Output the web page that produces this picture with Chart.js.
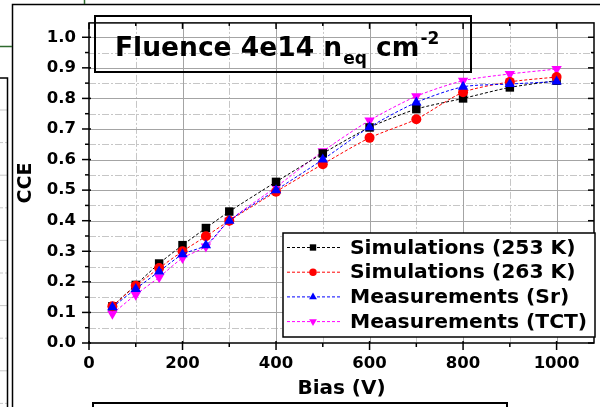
<!DOCTYPE html>
<html><head><meta charset="utf-8">
<script src="https://cdn.jsdelivr.net/npm/chart.js@4/dist/chart.umd.min.js"></script>
<style>html,body{margin:0;padding:0;background:#fff;overflow:hidden}#wrap{width:600px;height:407px;position:relative}</style>
</head><body><div id="wrap"><canvas id="c" width="600" height="407"></canvas></div>
<script>
// ---- data ----
const biasV   = [50,100,150,200,250,300,400,500,600,700,800,900,1000];
const sim253  = [0.12,0.19,0.26,0.32,0.376,0.43,0.527,0.62,0.705,0.765,0.80,0.836,0.858];
const sim263  = [0.12,0.187,0.245,0.30,0.349,0.40,0.495,0.585,0.671,0.732,0.82,0.854,0.87];
const measSr  = [0.117,0.177,0.234,0.29,0.32,0.40,0.50,0.60,0.706,0.787,0.838,0.847,0.855];
const measTCT = [0.096,0.158,0.215,0.278,0.316,0.40,0.51,0.627,0.728,0.807,0.858,0.88,0.896];
const seriesNames = ['Simulations (253 K)','Simulations (263 K)','Measurements (Sr)','Measurements (TCT)'];
const xTicks = [0,200,400,600,800,1000];
const xMinor = [100,300,500,700,900];
const yTicks = [0,0.1,0.2,0.3,0.4,0.5,0.6,0.7,0.8,0.9,1.0];
const yMinor = [0.05,0.15,0.25,0.35,0.45,0.55,0.65,0.75,0.85,0.95];
const xTitle = 'Bias (V)';
const yTitle = 'CCE';

const FONT = '"DejaVu Sans", sans-serif';
const pts = arr => biasV.map((x,i)=>({x, y: arr[i]}));

const styles = [
  {color:'#000000', pointStyle:'rect', radius:6, rotation:0, order:2},
  {color:'#ff0000', pointStyle:'circle', radius:5, rotation:0, order:1},
  {color:'#0000ff', pointStyle:'triangle', radius:6, rotation:0, order:0},
  {color:'#ff00ff', pointStyle:'triangle', radius:6, rotation:180, order:3}
];
const allSeries = [sim253, sim263, measSr, measTCT];

const datasets = allSeries.map((s,i)=>({
  label: seriesNames[i],
  data: pts(s),
  showLine: true,
  borderColor: styles[i].color,
  backgroundColor: styles[i].color,
  borderWidth: 1,
  borderDash: [3,2],
  tension: 0.25,
  pointStyle: styles[i].pointStyle,
  pointRadius: styles[i].radius,
  pointRotation: styles[i].rotation,
  pointBorderWidth: 0,
  order: styles[i].order
}));

function line(ctx,x1,y1,x2,y2){ctx.beginPath();ctx.moveTo(x1,y1);ctx.lineTo(x2,y2);ctx.stroke();}

const deco = {
  id:'deco',
  beforeDraw(chart){
    const ctx = chart.ctx;
    ctx.save();
    ctx.fillStyle='#fff'; ctx.fillRect(0,0,chart.width,chart.height);
    // surrounding slide artifacts
    ctx.strokeStyle='#c8c8c8'; ctx.lineWidth=1;
    for(let y=110;y<407;y+=32.6){ ctx.setLineDash((Math.round((y-110)/32.6)%2)?[3,2]:[]); line(ctx,0,y,7,y); }
    ctx.setLineDash([]);
    ctx.strokeStyle='#000'; ctx.lineWidth=1.5;
    ctx.beginPath(); ctx.moveTo(0,78); ctx.lineTo(7.5,78); ctx.lineTo(7.5,407); ctx.stroke();
    ctx.beginPath(); ctx.moveTo(12.5,407); ctx.lineTo(12.5,4.5); ctx.lineTo(600,4.5); ctx.stroke();
    ctx.strokeStyle='#2e6a2e'; ctx.lineWidth=1.5;
    line(ctx,0,46.5,12,46.5); line(ctx,84.5,0,84.5,4);
    ctx.strokeStyle='#000'; ctx.lineWidth=2;
    ctx.beginPath(); ctx.moveTo(93,409); ctx.lineTo(93,403); ctx.lineTo(507,403); ctx.lineTo(507,409); ctx.stroke();
    ctx.restore();
  },
  beforeDatasetsDraw(chart){
    const ctx=chart.ctx, xs=chart.scales.x, ys=chart.scales.y, a=chart.chartArea;
    ctx.save(); ctx.lineWidth=1;
    ctx.strokeStyle='#c6c6c6'; ctx.setLineDash([7,2,2,2]);
    xMinor.forEach(v=>{const p=Math.round(xs.getPixelForValue(v))+0.5; line(ctx,p,a.top,p,a.bottom);});
    yMinor.forEach(v=>{const p=Math.round(ys.getPixelForValue(v))+0.5; line(ctx,a.left,p,a.right,p);});
    ctx.setLineDash([]); ctx.strokeStyle='#a4a4a4';
    xTicks.forEach(v=>{ if(v===0) return; const p=Math.round(xs.getPixelForValue(v))+0.5; line(ctx,p,a.top,p,a.bottom);});
    yTicks.forEach(v=>{ if(v===0) return; const p=Math.round(ys.getPixelForValue(v))+0.5; line(ctx,a.left,p,a.right,p);});
    ctx.restore();
  },
  afterDatasetsDraw(chart){
    const ctx=chart.ctx, xs=chart.scales.x, ys=chart.scales.y, a=chart.chartArea;
    ctx.save();
    // frame
    ctx.strokeStyle='#000'; ctx.lineWidth=1.5;
    ctx.strokeRect(a.left,a.top,a.right-a.left,a.bottom-a.top);
    // tick marks
    ctx.lineWidth=1.5;
    yTicks.forEach(v=>{const p=ys.getPixelForValue(v); line(ctx,a.left-7,p,a.left+2,p); line(ctx,a.right,p,a.right-6,p);});
    yMinor.forEach(v=>{const p=ys.getPixelForValue(v); line(ctx,a.left-4,p,a.left,p); line(ctx,a.right,p,a.right-3,p);});
    xTicks.forEach(v=>{const p=xs.getPixelForValue(v); line(ctx,p,a.bottom-2,p,a.bottom+7); line(ctx,p,a.top,p,a.top+6);});
    xMinor.forEach(v=>{const p=xs.getPixelForValue(v); line(ctx,p,a.bottom,p,a.bottom+4); line(ctx,p,a.top,p,a.top+3);});
    // title box
    ctx.lineWidth=2; ctx.strokeRect(95,16,376,56);
    ctx.fillStyle='#000'; ctx.textBaseline='alphabetic'; ctx.textAlign='left';
    let x=115; const by=56;
    ctx.font='bold 26.5px '+FONT;
    let t='Fluence 4e14 n'; ctx.fillText(t,x,by); x+=ctx.measureText(t).width+1;
    ctx.font='bold 17px '+FONT; t='eq'; ctx.fillText(t,x,by+8); x+=ctx.measureText(t).width;
    ctx.font='bold 26.5px '+FONT; t=' cm'; ctx.fillText(t,x,by); x+=ctx.measureText(t).width+1;
    ctx.font='bold 17px '+FONT; t='-2'; ctx.fillText(t,x,by-12);
    // legend
    const L={x:283,y:233,w:312,h:104};
    ctx.fillStyle='#fff'; ctx.fillRect(L.x,L.y,L.w,L.h);
    ctx.strokeStyle='#000'; ctx.lineWidth=1.5; ctx.strokeRect(L.x,L.y,L.w,L.h);
    ctx.font='bold 20.3px '+FONT; ctx.textBaseline='middle';
    chart.data.datasets.forEach((ds,i)=>{
      const yy=L.y+14.5+i*24.7;
      ctx.strokeStyle=ds.borderColor; ctx.lineWidth=1; ctx.setLineDash([3,2]);
      line(ctx,287,yy,340,yy); ctx.setLineDash([]);
      ctx.fillStyle=ds.backgroundColor; ctx.strokeStyle=ds.borderColor;
      Chart.helpers.drawPoint(ctx,{pointStyle:ds.pointStyle,radius:ds.pointRadius*0.75,rotation:ds.pointRotation,borderWidth:0},313,yy);
      ctx.fillStyle='#000'; ctx.fillText(ds.label,350,yy+1);
    });
    ctx.restore();
  }
};

new Chart(document.getElementById('c'),{
  type:'scatter',
  data:{datasets},
  options:{
    responsive:false, animation:false, devicePixelRatio:1,
    layout:{padding:{left:0,right:2,top:12,bottom:0}},
    plugins:{legend:{display:false}, tooltip:{enabled:false}},
    scales:{
      x:{type:'linear', min:0, max:1080,
        afterBuildTicks:s=>{s.ticks=xTicks.map(v=>({value:v}));},
        afterFit:s=>{s.height=64;},
        grid:{display:false, drawTicks:false}, border:{display:false},
        ticks:{padding:11, color:'#000', autoSkip:false, maxRotation:0, font:{family:FONT, weight:'bold', size:16.5}, callback:v=>String(v)},
        title:{display:true, text:xTitle, color:'#000', padding:{top:0,bottom:6}, font:{family:FONT, weight:'bold', size:20}}
      },
      y:{type:'linear', min:0, max:1.047,
        afterBuildTicks:s=>{s.ticks=yTicks.map(v=>({value:v}));},
        afterFit:s=>{s.width=89;},
        grid:{display:false, drawTicks:false}, border:{display:false},
        ticks:{padding:13, color:'#000', autoSkip:false, font:{family:FONT, weight:'bold', size:16.5}, callback:v=>Number(v).toFixed(1)},
        title:{display:true, text:yTitle, color:'#000', padding:{top:15,bottom:0}, font:{family:FONT, weight:'bold', size:19}}
      }
    }
  },
  plugins:[deco]
});
</script></body></html>
